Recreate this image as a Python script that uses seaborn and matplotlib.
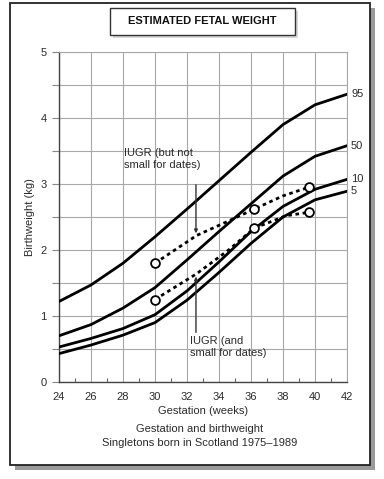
import numpy as np
import pandas as pd
import matplotlib
matplotlib.use("Agg")
import matplotlib.pyplot as plt
from matplotlib.patches import Rectangle
import seaborn as sns

# centile curves (kg)
weeks = [24, 26, 28, 30, 32, 34, 36, 38, 40, 42]
p95 = [1.22, 1.47, 1.80, 2.20, 2.62, 3.05, 3.48, 3.90, 4.20, 4.36]
p50 = [0.70, 0.87, 1.12, 1.43, 1.85, 2.28, 2.70, 3.12, 3.42, 3.58]
p10 = [0.53, 0.66, 0.81, 1.02, 1.38, 1.82, 2.28, 2.66, 2.92, 3.07]
p5 = [0.43, 0.56, 0.71, 0.90, 1.24, 1.66, 2.10, 2.50, 2.76, 2.89]
centile_names = ["95", "50", "10", "5"]

# IUGR example fetuses (dotted paths + measured points)
upper_weeks = [30.0, 32.6, 34.6, 36.2, 38.0, 39.6]
upper_kg = [1.80, 2.22, 2.44, 2.62, 2.82, 2.95]
lower_weeks = [30.0, 32.6, 34.6, 36.2, 38.2, 39.6]
lower_kg = [1.25, 1.64, 2.00, 2.33, 2.52, 2.57]
scan_weeks = [30.0, 36.2, 39.6]
upper_scan_kg = [1.80, 2.62, 2.95]
lower_scan_kg = [1.25, 2.33, 2.57]

sns.set_theme(style="whitegrid")
plt.rcParams["font.family"] = ["Liberation Sans", "DejaVu Sans"]
txt = "#2b2b2b"

fig = plt.figure(figsize=(3.84, 4.79), dpi=100)
fig.patch.set_facecolor("white")
ax = fig.add_axes([59 / 384, 1 - 382 / 479, 288 / 384, 330 / 479])
ax.set_facecolor("white")

curves = pd.DataFrame({"week": weeks * 4,
                       "kg": p95 + p50 + p10 + p5,
                       "centile": sum([[c] * len(weeks) for c in centile_names], [])})
sns.lineplot(data=curves, x="week", y="kg", units="centile", estimator=None,
             color="black", lw=2.0, ax=ax, zorder=3)

dots = dict(color="black", lw=2.0, linestyle=(0, (1.3, 1.3)), ax=ax, zorder=3)
sns.lineplot(x=upper_weeks, y=upper_kg, **dots)
sns.lineplot(x=lower_weeks, y=lower_kg, **dots)
circ = dict(s=40, facecolor="white", edgecolor="black", linewidth=1.3, ax=ax, zorder=4)
sns.scatterplot(x=scan_weeks, y=upper_scan_kg, **circ)
sns.scatterplot(x=scan_weeks, y=lower_scan_kg, **circ)

for name, vals in zip(centile_names, [p95, p50, p10, p5]):
    ax.text(42.25, vals[-1], name, fontsize=8, color=txt, va="center", ha="left",
            clip_on=False)

# annotations
ax.text(28.06, 3.55, "IUGR (but not\nsmall for dates)", fontsize=8, color=txt,
        va="top", ha="left", linespacing=1.25)
ax.annotate("", xy=(32.56, 2.21), xytext=(32.56, 3.03),
            arrowprops=dict(arrowstyle="-|>", lw=1.0, color="#333", mutation_scale=5))
ax.text(32.2, 0.70, "IUGR (and\nsmall for dates)", fontsize=8, color=txt,
        va="top", ha="left", linespacing=1.25)
ax.annotate("", xy=(32.56, 1.64), xytext=(32.56, 0.71),
            arrowprops=dict(arrowstyle="-|>", lw=1.0, color="#333", mutation_scale=5))

ax.set_xlim(24, 42)
ax.set_ylim(0, 5)
ax.set_xticks(range(24, 43, 2))
ax.set_xticks(range(24, 43, 1), minor=True)
ax.set_yticks(np.arange(0, 5.01, 0.5))
ax.set_yticklabels(["0", "", "1", "", "2", "", "3", "", "4", "", "5"])
ax.grid(True, which="major", color="#a8a8a8", lw=0.8)
ax.tick_params(axis="y", which="major", direction="out", length=5, width=0.8,
               color="#888", labelsize=8, labelcolor=txt, pad=4, left=True)
ax.tick_params(axis="x", which="major", direction="in", length=0, labelsize=8,
               labelcolor=txt, pad=7)
ax.tick_params(axis="x", which="minor", direction="in", length=3, width=0.8,
               color="#666", bottom=True)
ax.set_xlabel("Gestation (weeks)", fontsize=8, color=txt, labelpad=3)
ax.set_ylabel("Birthweight (kg)", fontsize=8, color=txt, labelpad=4)
for side in ["left", "bottom"]:
    ax.spines[side].set_color("#444")
    ax.spines[side].set_linewidth(1.0)
for side in ["top", "right"]:
    ax.spines[side].set_color("#a8a8a8")
    ax.spines[side].set_linewidth(0.8)

# caption
fig.text(200 / 384, 1 - 429 / 479, "Gestation and birthweight", fontsize=8,
         color=txt, ha="center", va="center")
fig.text(200 / 384, 1 - 443 / 479, "Singletons born in Scotland 1975\u20131989",
         fontsize=8, color=txt, ha="center", va="center")

# outer frame with shadow
W, H = 384, 479
fig.add_artist(Rectangle((15 / W, 1 - 470 / H), 360 / W, 462 / H, transform=fig.transFigure,
                         facecolor="#9a9a9a", edgecolor="none", zorder=0))
fig.add_artist(Rectangle((10 / W, 1 - 465 / H), 360 / W, 462 / H, transform=fig.transFigure,
                         facecolor="white", edgecolor="#222", lw=1.3, zorder=0.5))
ax.set_zorder(2)

# title box
fig.add_artist(Rectangle((113 / W, 1 - 38 / H), 185 / W, 27 / H, transform=fig.transFigure,
                         facecolor="#d8d8d8", edgecolor="none", zorder=2))
fig.add_artist(Rectangle((110 / W, 1 - 35 / H), 185 / W, 27 / H, transform=fig.transFigure,
                         facecolor="white", edgecolor="#333", lw=1.0, zorder=2.1))
fig.text(202 / W, 1 - 21 / H, "ESTIMATED FETAL WEIGHT", fontsize=8, fontweight="bold",
         color="#111", ha="center", va="center", zorder=3)

fig.savefig("out.png", dpi=100)
